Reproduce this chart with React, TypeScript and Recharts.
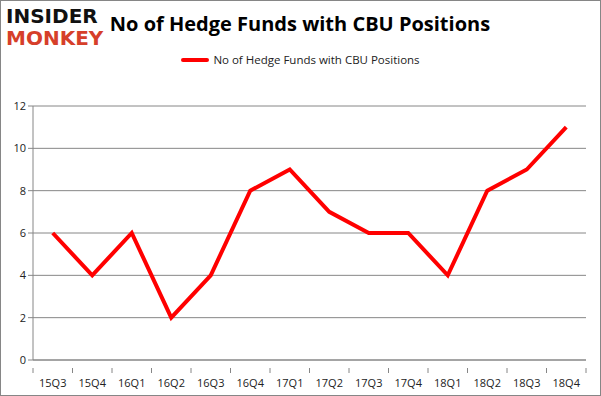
import { CartesianGrid, Legend, Line, LineChart, XAxis, YAxis } from "recharts";

const quarters = ["15Q3", "15Q4", "16Q1", "16Q2", "16Q3", "16Q4", "17Q1", "17Q2", "17Q3", "17Q4", "18Q1", "18Q2", "18Q3", "18Q4"];
const hedgeFunds = [6, 4, 6, 2, 4, 8, 9, 7, 6, 6, 4, 8, 9, 11];
const yTicks = [0, 2, 4, 6, 8, 10, 12];

const seriesName = "No of Hedge Funds with CBU Positions";
const chartData = quarters.map((q, i) => ({ quarter: q, funds: hedgeFunds[i] }));

const WIDTH = 601;
const HEIGHT = 396;
const PLOT_LEFT = 33;
const PLOT_RIGHT = 15;
const step = (WIDTH - PLOT_LEFT - PLOT_RIGHT) / quarters.length;

function QuarterTick(props: any) {
  const { x, y, payload, index } = props;
  const half = step / 2;
  return (
    <g>
      <line x1={x - half} x2={x - half} y1={y} y2={y + 5} stroke="#868686" />
      {index === quarters.length - 1 && <line x1={x + half} x2={x + half} y1={y} y2={y + 5} stroke="#868686" />}
      <text x={x} y={y + 19} textAnchor="middle" fill="#222" fontSize={11} fontFamily="'Open Sans', sans-serif">
        {payload.value}
      </text>
    </g>
  );
}

function LegendBox() {
  return (
    <div style={{ display: "flex", alignItems: "center", justifyContent: "center", fontFamily: "'Open Sans', sans-serif", fontSize: 11.5, color: "#222" }}>
      <span style={{ display: "inline-block", width: 28, height: 4, background: "#ff0000", borderRadius: 2, marginRight: 4 }} />
      {seriesName}
    </div>
  );
}

export default function App() {
  return (
    <div style={{ position: "absolute", left: 0, top: 0, width: WIDTH, height: HEIGHT, background: "#fff" }}>
      <div style={{ position: "absolute", left: 0, top: 0, width: WIDTH - 2, height: HEIGHT - 2, border: "1px solid #868686" }} />
      <div style={{ position: "absolute", left: 6, top: 5, fontFamily: "'DejaVu Sans', sans-serif", fontWeight: 900, lineHeight: "22px", fontSize: 20, letterSpacing: 0 }}>
        <div style={{ color: "#111" }}>INSIDER</div>
        <div style={{ color: "#d63f2a" }}>MONKEY</div>
      </div>
      <div style={{ position: "absolute", left: 100, width: 400, top: 10, textAlign: "center", fontFamily: "'Open Sans', sans-serif", fontWeight: 700, fontSize: 20, color: "#000" }}>
        {seriesName}
      </div>
      <LineChart width={WIDTH} height={HEIGHT} data={chartData} margin={{ top: 91, right: PLOT_RIGHT, bottom: 0, left: 0 }}>
        <Legend verticalAlign="top" content={<LegendBox />} wrapperStyle={{ top: 52, left: 0, width: WIDTH }} />
        <CartesianGrid vertical={false} stroke="#868686" />
        <XAxis
          dataKey="quarter"
          height={36}
          stroke="#868686"
          tickLine={false}
          tick={<QuarterTick />}
          interval={0}
          padding={{ left: step / 2, right: step / 2 }}
        />
        <YAxis
          width={PLOT_LEFT}
          domain={[0, 12]}
          ticks={yTicks}
          stroke="#868686"
          tickSize={5}
          tick={{ fill: "#222", fontSize: 11, fontFamily: "'Open Sans', sans-serif" }}
        />
        <Line dataKey="funds" name={seriesName} stroke="#ff0000" strokeWidth={4} dot={false} isAnimationActive={false} />
      </LineChart>
    </div>
  );
}
